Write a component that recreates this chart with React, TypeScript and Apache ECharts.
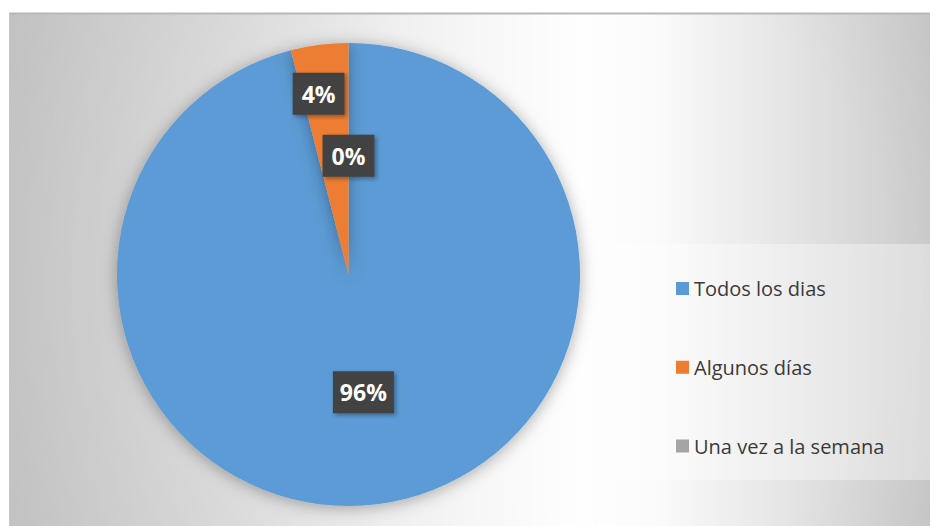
import React, { useEffect, useRef } from "react";
import * as echarts from "echarts";

const categories = ["Todos los dias", "Algunos días", "Una vez a la semana"];
const values = [96, 4, 0];
const colors = ["#5b9bd5", "#ed7d31", "#a5a5a5"];
const labelOffsets: number[][] = [[0, 0], [-15, -63], [0, 0]];
const labelPaddings: number[][] = [[10, 7], [10, 9], [10, 9]];

export default function App() {
  const ref = useRef<HTMLDivElement>(null);
  useEffect(() => {
    if (!ref.current) return;
    const chart = echarts.init(ref.current, null, { renderer: "svg" });
    const font = "'Open Sans', 'DejaVu Sans', sans-serif";
    chart.setOption({
      animation: false,
      backgroundColor: "#ffffff",
      graphic: [
        {
          type: "rect",
          z: -20,
          silent: true,
          shape: { x: 9, y: 13, width: 921, height: 513 },
          style: {
            fill: {
              type: "linear",
              x: 0, y: 0, x2: 1, y2: 0,
              colorStops: [
                { offset: 0, color: "#d0d0d0" },
                { offset: 0.25, color: "#e0e0e0" },
                { offset: 0.5, color: "#f6f6f6" },
                { offset: 0.62, color: "#fefefe" },
                { offset: 0.7, color: "#fbfbfb" },
                { offset: 0.85, color: "#e4e4e4" },
                { offset: 1, color: "#cbcbcb" },
              ],
            },
          },
        },
        {
          type: "rect",
          z: -19,
          silent: true,
          shape: { x: 9, y: 13, width: 921, height: 513 },
          style: {
            fill: {
              type: "radial",
              x: 580, y: 280, r: 620, global: true,
              colorStops: [
                { offset: 0, color: "rgba(0,0,0,0)" },
                { offset: 0.5, color: "rgba(0,0,0,0)" },
                { offset: 1, color: "rgba(0,0,0,0.07)" },
              ],
            },
          },
        },
        {
          type: "line",
          z: -18,
          silent: true,
          shape: { x1: 9, y1: 13.5, x2: 930, y2: 13.5 },
          style: { stroke: "#b8b8b8", lineWidth: 2 },
        },
        {
          type: "line",
          z: -18,
          silent: true,
          shape: { x1: 9.5, y1: 13, x2: 9.5, y2: 526 },
          style: { stroke: "#c6c6c6", lineWidth: 1 },
        },
        {
          type: "rect",
          z: -17,
          silent: true,
          shape: { x: 615, y: 244, width: 315, height: 236 },
          style: { fill: "rgba(255,255,255,0.35)" },
        },
      ],
      legend: {
        orient: "vertical",
        left: 671,
        top: 273.5,
        itemWidth: 13,
        itemHeight: 13,
        itemGap: 58.75,
        icon: "rect",
        selectedMode: false,
        data: categories,
        textStyle: {
          fontSize: 20,
          lineHeight: 20,
          color: "#3a3a3a",
          fontFamily: font,
        },
      },
      series: [
        {
          type: "pie",
          center: [348.5, 274.5],
          radius: 231.5,
          startAngle: 90,
          clockwise: true,
          avoidLabelOverlap: false,
          emphasis: { disabled: true },
          labelLine: { show: false },
          itemStyle: {
            shadowBlur: 16,
            shadowColor: "rgba(0,0,0,0.32)",
            shadowOffsetY: 2,
          },
          label: {
            show: true,
            position: "inside",
            formatter: "{d}%",
            color: "#ffffff",
            fontWeight: "bold",
            fontSize: 23,
            lineHeight: 22,
            fontFamily: font,
            backgroundColor: "#424242",
            shadowColor: "rgba(0,0,0,0.35)",
            shadowBlur: 4,
            shadowOffsetX: 2,
            shadowOffsetY: 2,
          },
          data: categories.map((name, i) => ({
            name,
            value: values[i],
            itemStyle: { color: colors[i] },
            label: { offset: labelOffsets[i], padding: labelPaddings[i] },
          })),
        },
      ],
    });
    return () => chart.dispose();
  }, []);
  return (
    <div
      ref={ref}
      style={{ position: "absolute", left: 0, top: 0, width: 930, height: 526 }}
    />
  );
}
